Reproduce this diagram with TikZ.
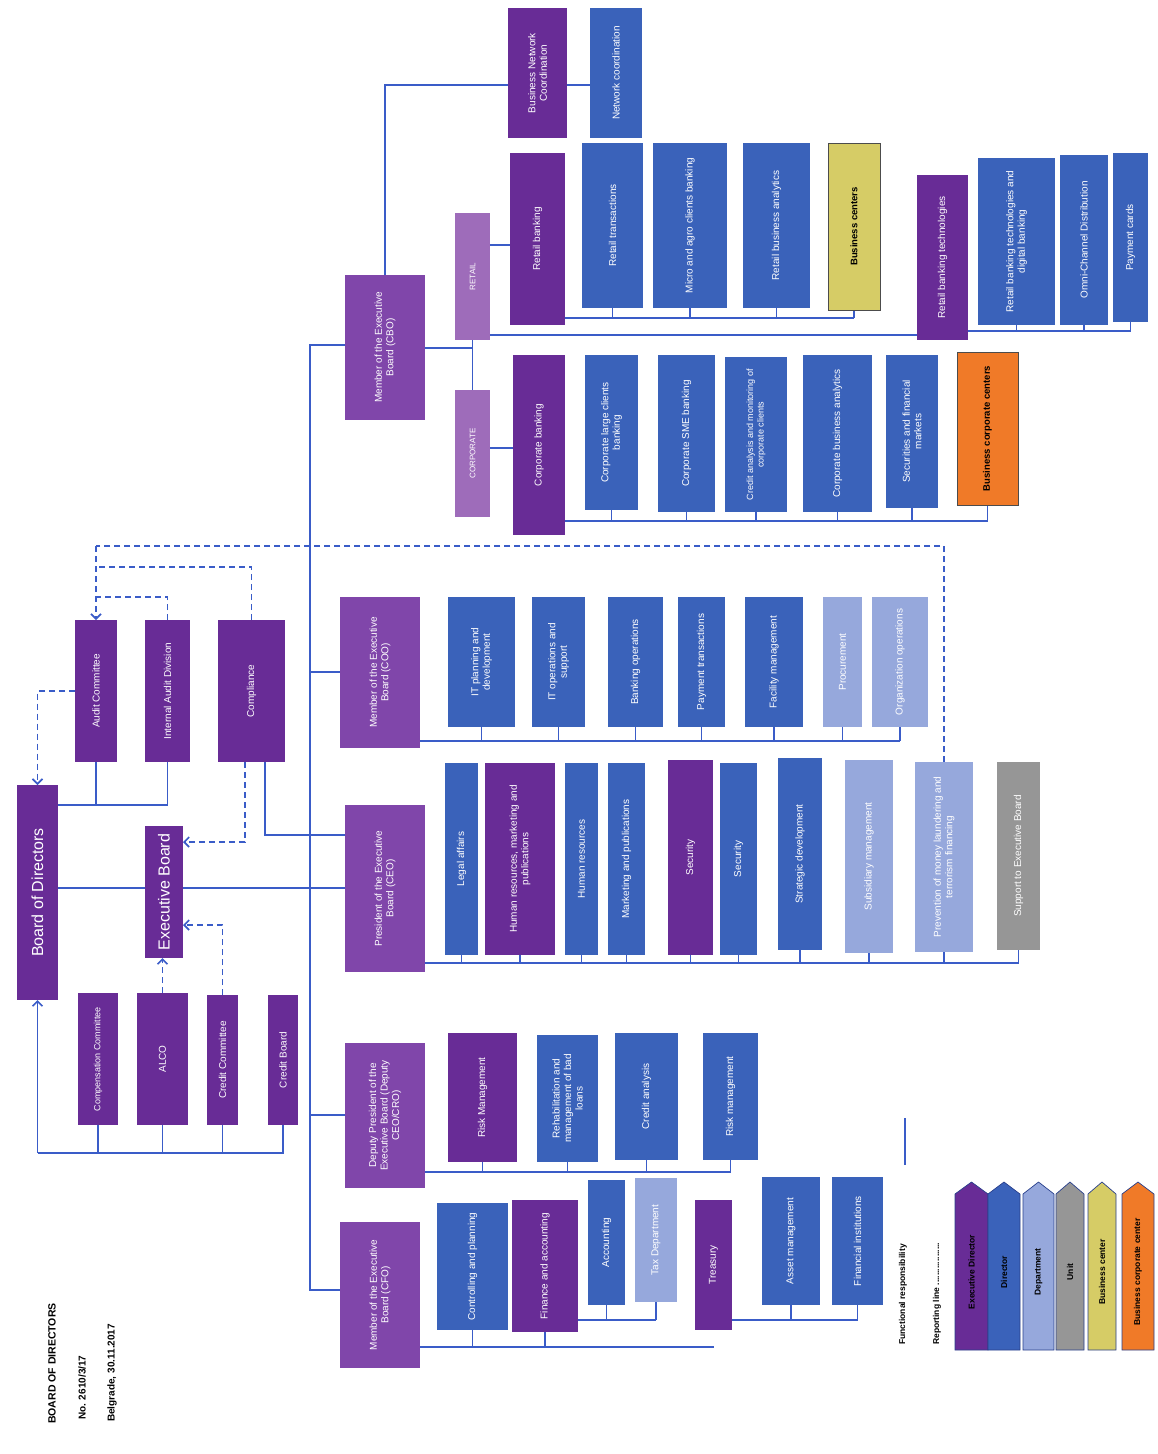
\documentclass[tikz,border=0pt]{standalone}
\usepackage{fontspec}
\setmainfont{Liberation Sans}
\usetikzlibrary{arrows.meta}
\pgfdeclarelayer{bg}
\pgfsetlayers{bg,main}
\definecolor{cPur}{RGB}{104,44,150}
\definecolor{cExe}{RGB}{128,70,170}
\definecolor{cBlu}{RGB}{58,98,186}
\definecolor{cLbl}{RGB}{150,168,220}
\definecolor{cGry}{RGB}{150,150,150}
\definecolor{cYel}{RGB}{214,204,102}
\definecolor{cOra}{RGB}{240,122,40}
\definecolor{cMau}{RGB}{158,108,186}
\definecolor{cLin}{RGB}{58,92,200}
\tikzset{
  bx/.style={rotate=90,inner sep=0pt,outer sep=0pt,align=center,text=white,
    font=\fontsize{10}{11.5}\selectfont},
  pur/.style={fill=cPur},
  exe/.style={fill=cExe},
  blu/.style={fill=cBlu},
  lbl/.style={fill=cLbl},
  gry/.style={fill=cGry},
  mau/.style={fill=cMau,font=\fontsize{8}{9}\selectfont},
  yel/.style={fill=cYel,draw=black!70,line width=1pt,text=black,font=\fontsize{9.5}{11}\selectfont\bfseries},
  ora/.style={fill=cOra,draw=black!70,line width=1pt,text=black,font=\fontsize{9.5}{11}\selectfont\bfseries},
  big/.style={font=\fontsize{16}{18}\selectfont},
  sml/.style={font=\fontsize{9}{10.5}\selectfont},
  ln/.style={draw=cLin,line width=1.6pt},
  dsh/.style={draw=cLin,line width=1.6pt,dash pattern=on 6pt off 4pt},
  arr/.style={-{Straight Barb[length=5pt,width=10pt]}},
  lgtext/.style={rotate=90,text=black,font=\fontsize{8.5}{10}\selectfont\bfseries,inner sep=0pt},
}
\newcommand\orgbox[7]{%
  \pgfmathsetmacro\obcx{(#2+#4)/2}%
  \pgfmathsetmacro\obcy{(#3+#5)/2}%
  \pgfmathsetmacro\obw{#5-#3}%
  \pgfmathsetmacro\obh{#4-#2}%
  \node[bx,#6,minimum width=\obw pt,minimum height=\obh pt] (#1) at (\obcx,\obcy) {#7};}
\newcommand\lgdbox[5]{%
  \pgfmathsetmacro\lgc{(#2+#3)/2}%
  \fill[#4,draw=cLin!70!black,line width=0.7pt] (#2,1350) -- (#2,1194) -- (\lgc,1182) -- (#3,1194) -- (#3,1350) -- cycle;
  \node[lgtext] (#1) at (\lgc,1272) {#5};}
\begin{document}
\begin{tikzpicture}[x=1pt,y=-1pt]
\useasboundingbox (0,0) rectangle (1158,1454);
% ---------- top level
\orgbox{bod}{17}{785}{58}{1000}{pur,big}{Board of Directors}
\orgbox{eb}{145}{826}{183}{958}{pur,big}{Executive Board}
\orgbox{audit}{75}{620}{117}{762}{pur}{Audit Committee}
\orgbox{iad}{145}{620}{190}{762}{pur}{Internal Audit Division}
\orgbox{comp}{218}{620}{285}{762}{pur}{Compliance}
\orgbox{comc}{78}{993}{118}{1125}{pur,sml}{Compensation Committee}
\orgbox{alco}{137}{993}{188}{1125}{pur}{ALCO}
\orgbox{credit}{207}{995}{238}{1125}{pur}{Credit Committee}
\orgbox{cs}{268}{995}{298}{1125}{pur}{Credit Board}
% ---------- executive members
\orgbox{cbo}{345}{275}{425}{420}{exe}{Member of the Executive\\Board (CBO)}
\orgbox{coo}{340}{597}{420}{748}{exe}{Member of the Executive\\Board (COO)}
\orgbox{ceo}{345}{805}{425}{972}{exe}{President of the Executive\\Board (CEO)}
\orgbox{dep}{345}{1043}{425}{1188}{exe}{Deputy President of the\\Executive Board (Deputy\\CEO/CRO)}
\orgbox{cfo}{340}{1222}{420}{1368}{exe}{Member of the Executive\\Board (CFO)}
% ---------- business
\orgbox{bnc}{508}{8}{567}{138}{pur}{Business Network\\Coordination}
\orgbox{nc}{590}{8}{642}{138}{blu}{Network coordination}
\orgbox{retail}{455}{213}{490}{340}{mau}{RETAIL}
\orgbox{corp}{455}{390}{490}{517}{mau}{CORPORATE}
\orgbox{rb}{510}{153}{565}{325}{pur}{Retail banking}
\orgbox{rt}{582}{143}{643}{308}{blu}{Retail transactions}
\orgbox{mac}{653}{143}{727}{308}{blu}{Micro and agro clients banking}
\orgbox{rba}{743}{143}{810}{308}{blu}{Retail business analytics}
\orgbox{bc}{828}{143}{880}{310}{yel}{Business centers}
\orgbox{rbt}{917}{175}{968}{340}{pur}{Retail banking technologies}
\orgbox{rbtd}{978}{158}{1055}{325}{blu}{Retail banking technologies and\\digital banking}
\orgbox{ocd}{1060}{155}{1108}{325}{blu}{Omni-Channel Distribution}
\orgbox{pc}{1113}{153}{1148}{322}{blu}{Payment cards}
\orgbox{cb}{513}{355}{565}{535}{pur}{Corporate banking}
\orgbox{clc}{585}{355}{638}{510}{blu}{Corporate large clients\\banking}
\orgbox{csme}{658}{355}{715}{512}{blu}{Corporate SME banking}
\orgbox{cam}{725}{357}{787}{512}{blu,sml}{Credit analysis and monitoring of\\corporate clients}
\orgbox{cba}{803}{355}{872}{512}{blu}{Corporate business analytics}
\orgbox{sfm}{886}{355}{938}{508}{blu}{Securities and financial\\markets}
\orgbox{bcc}{957}{352}{1018}{505}{ora}{Business corporate centers}
% ---------- COO
\orgbox{itp}{448}{597}{515}{727}{blu}{IT planning and\\development}
\orgbox{ito}{532}{597}{585}{727}{blu}{IT operations and\\support}
\orgbox{bo}{608}{597}{663}{727}{blu}{Banking operations}
\orgbox{pt}{678}{597}{725}{727}{blu}{Payment transactions}
\orgbox{fm}{745}{597}{803}{727}{blu}{Facility management}
\orgbox{proc}{823}{597}{862}{727}{lbl}{Procurement}
\orgbox{orgop}{872}{597}{928}{727}{lbl}{Organization operations}
% ---------- CEO
\orgbox{la}{445}{763}{478}{955}{blu}{Legal affairs}
\orgbox{hrm}{485}{763}{555}{955}{pur}{Human resources, marketing and\\publications}
\orgbox{hr}{565}{763}{598}{955}{blu}{Human resources}
\orgbox{mp}{608}{763}{645}{955}{blu}{Marketing and publications}
\orgbox{seca}{668}{760}{713}{955}{pur}{Security}
\orgbox{secb}{720}{763}{757}{955}{blu}{Security}
\orgbox{sd}{778}{758}{822}{950}{blu}{Strategic development}
\orgbox{sm}{845}{760}{893}{953}{lbl}{Subsidiary management}
\orgbox{pml}{915}{762}{973}{952}{lbl}{Prevention of money laundering and\\terrorism financing}
\orgbox{seb}{997}{762}{1040}{950}{gry}{Support to Executive Board}
% ---------- Deputy
\orgbox{rm}{448}{1033}{517}{1162}{pur}{Risk Management}
\orgbox{rmb}{537}{1035}{598}{1162}{blu}{Rehabilitation and\\management of bad\\loans}
\orgbox{ca}{615}{1033}{678}{1160}{blu}{Credit analysis}
\orgbox{rmm}{703}{1033}{758}{1160}{blu}{Risk management}
% ---------- CFO
\orgbox{cp}{437}{1203}{508}{1330}{blu}{Controlling and planning}
\orgbox{fa}{512}{1200}{578}{1332}{pur}{Finance and accounting}
\orgbox{acc}{588}{1180}{625}{1305}{blu}{Accounting}
\orgbox{tax}{635}{1178}{677}{1302}{lbl}{Tax Department}
\orgbox{tre}{695}{1200}{732}{1330}{pur}{Treasury}
\orgbox{am}{762}{1177}{820}{1305}{blu}{Asset management}
\orgbox{fi}{832}{1177}{883}{1305}{blu}{Financial institutions}
% ---------- junctions of the main spine
\coordinate (m1) at (310,345);
\coordinate (m2) at (310,672);
\coordinate (m3) at (310,888);
\coordinate (m4) at (310,1115);
\coordinate (m5) at (310,1290);
\begin{pgfonlayer}{bg}
% spine
\draw[ln] (cbo.north |- m1) -- (m1) -- (m5) -- (cfo.north |- m5);
\draw[ln] (m2) -- (coo.north |- m2);
\draw[ln] (bod.south |- m3) -- (ceo.north |- m3);
\draw[ln] (m4) -- (dep.north |- m4);
% committees above
\draw[ln] (bod.south |- 0,805) -| (iad.west);
\draw[ln] (audit.west) -- (audit.west |- 0,805);
\draw[ln] (comp.west -| 265,0) |- (ceo.north |- 0,835);
% committees below
\draw[ln] (cs.west) |- (bod.west |- 0,1153);
\draw[ln,arr] (bod.west |- 0,1153) -- (bod.west);
\foreach \n in {comc,alco,credit} \draw[ln] (\n.west) -- (\n.west |- 0,1153);
% dashed reporting lines
\draw[dsh,arr] (alco.east) -- (alco.east |- eb.west);
\draw[dsh,arr] (credit.east) |- (eb.south |- 0,925);
\draw[dsh,arr] (comp.west -| 245,0) |- (eb.south |- 0,842);
\draw[dsh,arr] (audit.north) -| (bod.east);
\draw[dsh] (iad.east) |- (audit.east |- 0,597);
\draw[dsh] (comp.east) |- (audit.east |- 0,567);
\draw[dsh] (pml.east) |- (audit.east |- 0,546);
\draw[dsh,arr] (audit.east |- 0,546) -- (audit.east);
% CBO
\draw[ln] (cbo.east) |- (bnc.north |- 0,85);
\draw[ln] (bnc.south |- 0,85) -- (nc.north |- 0,85);
\draw[ln] (cbo.south |- 0,348) -| (retail.west);
\draw[ln] (retail.west) -- (corp.east);
\draw[ln] (retail.south |- 0,245) -- (rb.north |- 0,245);
\draw[ln] (retail.south |- 0,335) -- (rbt.north |- 0,335);
\draw[ln] (rb.south |- 0,318) -- (bc.west |- 0,318);
\foreach \n in {rt,mac,rba,bc} \draw[ln] (\n.west) -- (\n.west |- 0,318);
\draw[ln] (rbt.south |- 0,331) -- (pc.west |- 0,331);
\foreach \n in {rbtd,ocd,pc} \draw[ln] (\n.west) -- (\n.west |- 0,331);
\draw[ln] (corp.south |- 0,448) -- (cb.north |- 0,448);
\draw[ln] (cb.south |- 0,521) -- (bcc.west |- 0,521);
\foreach \n in {clc,csme,cam,cba,sfm,bcc} \draw[ln] (\n.west) -- (\n.west |- 0,521);
% COO
\draw[ln] (coo.south |- 0,741) -- (orgop.west |- 0,741);
\foreach \n in {itp,ito,bo,pt,fm,proc,orgop} \draw[ln] (\n.west) -- (\n.west |- 0,741);
% CEO
\draw[ln] (ceo.south |- 0,963) -- (seb.west |- 0,963);
\foreach \n in {la,hrm,hr,mp,seca,secb,sd,sm,pml,seb} \draw[ln] (\n.west) -- (\n.west |- 0,963);
% Deputy
\draw[ln] (dep.south |- 0,1172) -- (rmm.west |- 0,1172);
\foreach \n in {rm,rmb,ca,rmm} \draw[ln] (\n.west) -- (\n.west |- 0,1172);
% CFO
\draw[ln] (cfo.south |- 0,1347) -- (tre.west |- 0,1347);
\foreach \n in {cp,fa} \draw[ln] (\n.west) -- (\n.west |- 0,1347);
\draw[ln] (fa.south |- 0,1320) -- (tax.west |- 0,1320);
\foreach \n in {acc,tax} \draw[ln] (\n.west) -- (\n.west |- 0,1320);
\draw[ln] (tre.south |- 0,1320) -- (fi.west |- 0,1320);
\foreach \n in {am,fi} \draw[ln] (\n.west) -- (\n.west |- 0,1320);
\end{pgfonlayer}
% ---------- legend
\coordinate (lgA) at (905,1118);
\coordinate (lgB) at (905,1165);
\draw[draw=cLin,line width=2.6pt] (lgA) -- (lgB);
\node[lgtext,anchor=west] (lf) at (903,1345) {Functional responsibility};
\node[lgtext,anchor=west] (lr) at (937,1345) {Reporting line ..................};
\lgdbox{lg1}{955}{988}{cPur}{Executive Director}
\lgdbox{lg2}{988}{1020}{cBlu}{Director}
\lgdbox{lg3}{1023}{1054}{cLbl}{Department}
\lgdbox{lg4}{1056}{1084}{cGry}{Unit}
\lgdbox{lg5}{1088}{1116}{cYel}{Business center}
\lgdbox{lg6}{1122}{1154}{cOra}{Business corporate center}
% ---------- signature block
\node[rotate=90,anchor=west,inner sep=0pt,font=\fontsize{10.5}{12}\selectfont\bfseries] (sg1) at (52,1424) {BOARD OF DIRECTORS};
\node[rotate=90,anchor=west,inner sep=0pt,font=\fontsize{10}{12}\selectfont\bfseries] (sg2) at (82,1420) {No. 2610/3/17};
\node[rotate=90,anchor=west,inner sep=0pt,font=\fontsize{10}{12}\selectfont\bfseries] (sg3) at (112,1422) {Belgrade, 30.11.2017};
\end{tikzpicture}
\end{document}
